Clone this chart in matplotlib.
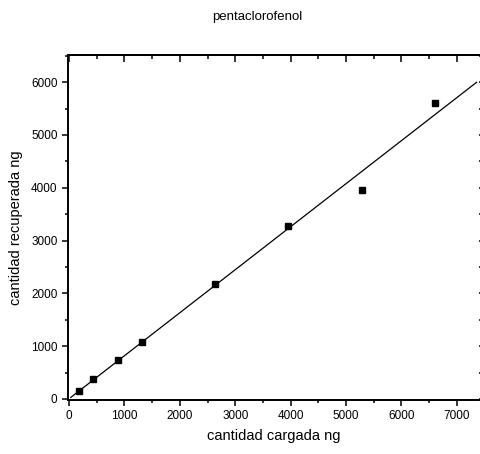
import numpy as np
import matplotlib
matplotlib.use("Agg")
import matplotlib.pyplot as plt
from matplotlib.ticker import MultipleLocator

plt.rcParams['font.family'] = ['Liberation Sans Narrow', 'Liberation Sans', 'DejaVu Sans']

# ── Data ──────────────────────────────────────────────────────────────
cargada = np.array([180, 440, 880, 1320, 2640, 3960, 5280, 6600], dtype=float)
recuperada = np.array([150, 380, 740, 1080, 2180, 3280, 3960, 5610], dtype=float)

title = "pentaclorofenol"
xlabel = "cantidad cargada ng"
ylabel = "cantidad recuperada ng"

# ── Figure ────────────────────────────────────────────────────────────
fig = plt.figure(figsize=(4.8, 4.54), dpi=100)
ax = fig.add_axes([0.1417, 0.119, 0.856, 0.76])

ax.plot(cargada, recuperada, "s", color="black", markersize=5, zorder=5)

# linear fit across the axis range
coeffs = np.polyfit(cargada, recuperada, 1)
x_fit = np.linspace(30, 7360, 100)
ax.plot(x_fit, np.polyval(coeffs, x_fit), "-", color="black", linewidth=0.9)

ax.set_xlim(-20, 7400)
ax.set_ylim(-20, 6515)

ax.xaxis.set_major_locator(MultipleLocator(1000))
ax.xaxis.set_minor_locator(MultipleLocator(500))
ax.yaxis.set_major_locator(MultipleLocator(1000))
ax.yaxis.set_minor_locator(MultipleLocator(500))

for side in ["left", "bottom", "top"]:
    ax.spines[side].set_linewidth(1.4)
ax.spines["right"].set_visible(False)

ax.tick_params(which="both", direction="out", top=False, right=True,
               width=1.1, labelsize=8.5)
ax.tick_params(which="major", length=4)
ax.tick_params(which="minor", length=2.5)
ax.tick_params(axis="y", which="both", right=True)

# top ticks point inward
top = ax.secondary_xaxis("top")
top.xaxis.set_major_locator(MultipleLocator(1000))
top.xaxis.set_minor_locator(MultipleLocator(500))
top.tick_params(which="both", direction="in", width=1.1, labeltop=False)
top.tick_params(which="major", length=5)
top.tick_params(which="minor", length=3)
top.spines["top"].set_linewidth(1.4)

ax.set_xlabel(xlabel, fontsize=10.5, labelpad=5)
ax.set_ylabel(ylabel, fontsize=10.5, labelpad=6)

fig.text(257 / 480, 1 - 17 / 454, title, fontsize=9.5, ha="center", va="center")

fig.savefig("out.png", dpi=100)
